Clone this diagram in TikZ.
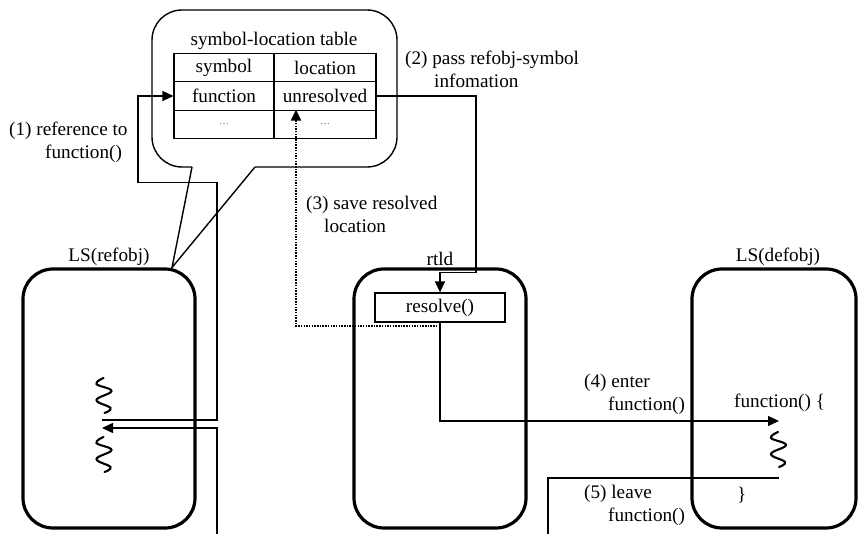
\documentclass[tikz,border=0pt]{standalone}
\usepackage{fontspec}
\setmainfont{Liberation Serif}
\usetikzlibrary{arrows.meta}
\begin{document}
\begin{tikzpicture}[x=1pt,y=-1pt,
  font=\fontsize{19.2}{23}\selectfont,
  procbox/.style={draw, line width=3.2pt, rounded corners=30pt,
    minimum width=172pt, minimum height=259pt, inner sep=0pt},
  cell/.style={draw, line width=1.1pt, minimum height=28.7pt, inner sep=0pt},
  funcbox/.style={draw, line width=1.3pt, minimum width=130pt, minimum height=29pt, inner sep=0pt},
  thin/.style={line width=1.4pt},
  flow/.style={thin, -{Triangle[length=11pt,width=10pt]}},
  dotflow/.style={line width=2pt, dash pattern=on 1.5pt off 1.2pt,
    -{Triangle[length=11pt,width=10pt]}},
  lbl/.style={anchor=west, align=left, inner sep=0pt},
  title/.style={anchor=south, inner sep=2pt},
  squig/.pic={\draw[line width=2.1pt, line cap=round]
    plot[smooth, tension=0.7] coordinates {(0,0) (-7,6) (8,13) (-7,22) (7,30) (1,35)};}
]
\useasboundingbox (0,0) rectangle (858,534);
\clip (0,0) rectangle (858,534);

% linkage spaces and the runtime linker
\node[procbox] (ref) at (109,398.5) {};
\node[procbox] (rtld) at (440,398.5) {};
\node[procbox, minimum width=164pt] (def) at (774,398.5) {};
\node[title] (lref) at (ref.north) {LS(refobj)};
\node[title] (lrtld) at (rtld.north) {rtld};
\node[title] (ldef) at ([xshift=4pt]def.north) {LS(defobj)};

% call-out bubble holding the symbol-location table
\coordinate (tip) at (172,267.5);
\draw[thin, rounded corners=30pt] (255,167) -- (397,167) -- (397,10) -- (152,10) -- (152,167) -- (192,167);
\draw[thin] (192,167) -- (tip) -- (255,167);

\node (ttl) at (274,41) {symbol-location table};
\node[cell, minimum width=100pt] (c11) at (224,67.5) {symbol};
\node[cell, minimum width=102pt] (c12) at (325,67.5) {location};
\node[cell, minimum width=100pt] (c21) at (224,96) {function};
\node[cell, minimum width=102pt] (c22) at (325,96) {unresolved};
\node[cell, minimum width=100pt, font=\fontsize{10}{10}\selectfont, text=black!60] (c31) at (224,124.5) {…};
\node[cell, minimum width=102pt, font=\fontsize{10}{10}\selectfont, text=black!60] (c32) at (325,124.5) {…};

% resolver inside rtld
\node[funcbox] (res) at (440,307.5) {resolve()};

% code fragments
\pic at (103.5,378) {squig};
\pic at (103.5,437) {squig};
\pic at (778,432) {squig};
\node[lbl] (fbeg) at (734,403) {function() \{};
\node[lbl] (fend) at (737,495) {\}};

% end points inside the linkage spaces
\coordinate (r1) at (102,420);
\coordinate (r5) at (102,428);
\coordinate (d3) at (296,326);
\coordinate (d4) at (779,421);
\coordinate (d5) at (779,478);

% (1) reference to function()
\draw[flow] (r1) -- (217,420) -- (217,182.5) -- (138,182.5) -- (138,96) -- (c21.west);
% (2) pass refobj-symbol information
\draw[flow] (c22.east) -- (476,96) -- (476,272.5) -- (440,272.5) -- (res.north);
% (3) save resolved location
\draw[dotflow] (res.south |- d3) -- (d3) -- (d3 |- c32.north);
% (4) enter function()
\draw[flow] (res.south) -- (res.south |- d4) -- (d4);
% (5) leave function()
\draw[flow] (d5) -- (548,478) -- (548,560) -- (217,560) -- (217,428) -- (r5);

% step labels
\node[lbl] (t1) at (9,142.5) {(1) reference to\\\hspace*{36pt}function()};
\node[lbl] (t2) at (405,69) {(2) pass refobj-symbol\\\hspace*{29pt}infomation};
\node[lbl] (t3) at (306,214.5) {(3) save resolved\\\hspace*{18pt}location};
\node[lbl] (t4) at (584,394.5) {(4) enter\\\hspace*{24pt}function()};
\node[lbl] (t5) at (584,505.5) {(5) leave\\\hspace*{24pt}function()};
\end{tikzpicture}
\end{document}
